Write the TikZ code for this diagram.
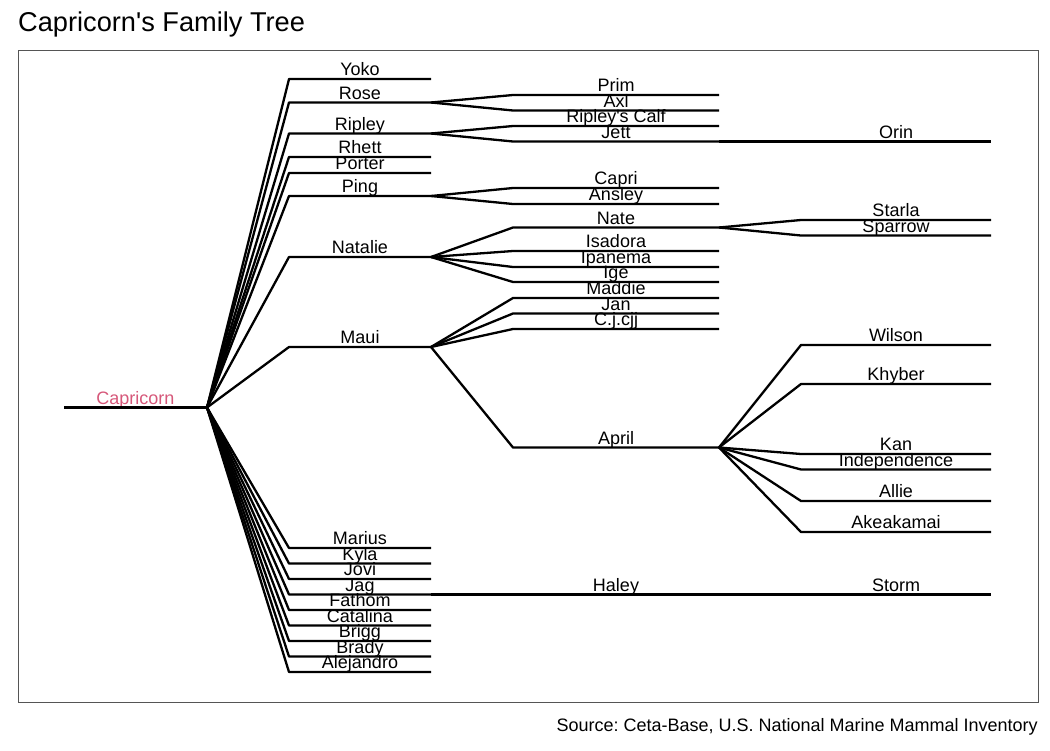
\documentclass[tikz,border=0pt]{standalone}
\usepackage{fontspec}
\setmainfont{Liberation Sans}[Ligatures=TeXOff]
\frenchspacing
\definecolor{rootpink}{RGB}{214,88,122}
\definecolor{framegray}{RGB}{85,85,85}
\newcommand\lblfont{\fontsize{18}{21}\selectfont}
% name, x-left, x-right, y, label
\newcommand\fmember[5]{%
  \coordinate (#1-l) at (#2,#4);
  \coordinate (#1-r) at (#3,#4);
  \node[lbl] (#1) at ({(#2+#3)/2},#4-3.5) {#5};}
\newcommand\mA[3]{\fmember{#1}{289}{431}{#2}{#3}}
\newcommand\mB[3]{\fmember{#1}{513}{719}{#2}{#3}}
\newcommand\mC[3]{\fmember{#1}{801}{991}{#2}{#3}}
\newcommand\kid[2]{\draw[edge] (#1-r) -- (#2-l) -- (#2-r);}
\begin{document}
\begin{tikzpicture}[x=1pt,y=-1pt,
  lbl/.style={anchor=base,inner sep=0pt,font=\lblfont},
  edge/.style={line width=2.3pt,line join=round,black}]
\useasboundingbox (0,0) rectangle (1050,750);
\node[anchor=base west,inner sep=0pt,font=\fontsize{27.2}{31}\selectfont] (title) at (18,31) {Capricorn's Family Tree};
\node[anchor=base east,inner sep=0pt,font=\lblfont] (source) at (1038,731) {Source: Ceta-Base, U.S. National Marine Mammal Inventory};
\draw[framegray,line width=1pt] (18,50) rectangle (1038,702);
% root
\fmember{cap}{64}{207}{407.5}{\textcolor{rootpink}{Capricorn}}
\draw[edge] (cap-l) -- (cap-r);
% level 1
\mA{yoko}{79}{Yoko}
\mA{rose}{102.5}{Rose}
\mA{ripley}{133.5}{Ripley}
\mA{rhett}{157}{Rhett}
\mA{porter}{173}{Porter}
\mA{ping}{196}{Ping}
\mA{natalie}{257}{Natalie}
\mA{maui}{347}{Maui}
\mA{marius}{548}{Marius}
\mA{kyla}{563.5}{Kyla}
\mA{jovi}{579}{Jovi}
\mA{jag}{594.5}{Jag}
\mA{fathom}{610}{Fathom}
\mA{catalina}{625.5}{Catalina}
\mA{brigg}{641}{Brigg}
\mA{brady}{656.5}{Brady}
\mA{alejandro}{672}{Alejandro}
% level 2
\mB{prim}{95}{Prim}
\mB{axl}{110.5}{Axl}
\mB{rcalf}{126}{Ripley's Calf}
\mB{jett}{141.5}{Jett}
\mB{capri}{188}{Capri}
\mB{ansley}{204}{Ansley}
\mB{nate}{227.5}{Nate}
\mB{isadora}{251}{Isadora}
\mB{ipanema}{267}{Ipanema}
\mB{ige}{282}{Ige}
\mB{maddie}{298}{Maddie}
\mB{jan}{313.5}{Jan}
\mB{cj}{329}{C.j.cjj}
\mB{april}{447.5}{April}
\mB{haley}{594.5}{Haley}
% level 3
\mC{orin}{141.5}{Orin}
\mC{starla}{220}{Starla}
\mC{sparrow}{235.5}{Sparrow}
\mC{wilson}{345}{Wilson}
\mC{khyber}{384}{Khyber}
\mC{kan}{454}{Kan}
\mC{indep}{469.5}{Independence}
\mC{allie}{501}{Allie}
\mC{akea}{532}{Akeakamai}
\mC{storm}{594.5}{Storm}
% connectors
\foreach \c in {yoko,rose,ripley,rhett,porter,ping,natalie,maui,marius,kyla,jovi,jag,fathom,catalina,brigg,brady,alejandro}{\kid{cap}{\c}}
\kid{rose}{prim}\kid{rose}{axl}
\kid{ripley}{rcalf}\kid{ripley}{jett}
\kid{ping}{capri}\kid{ping}{ansley}
\foreach \c in {nate,isadora,ipanema,ige}{\kid{natalie}{\c}}
\foreach \c in {maddie,jan,cj,april}{\kid{maui}{\c}}
\kid{jag}{haley}
\kid{jett}{orin}
\kid{nate}{starla}\kid{nate}{sparrow}
\foreach \c in {wilson,khyber,kan,indep,allie,akea}{\kid{april}{\c}}
\kid{haley}{storm}
\end{tikzpicture}
\end{document}
